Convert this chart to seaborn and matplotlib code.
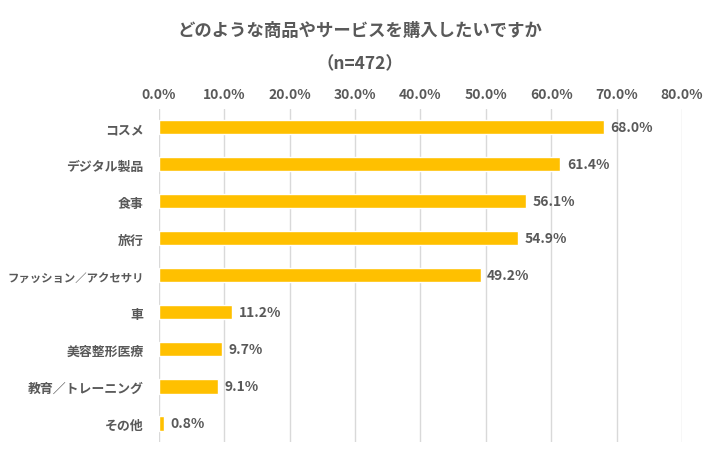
import pandas as pd
import matplotlib
matplotlib.use('Agg')
import matplotlib.pyplot as plt
import seaborn as sbn
import numpy as np

# data
categories = ['コスメ', 'デジタル製品', '食事', '旅行', 'ファッション／アクセサリ',
              '車', '美容整形医療', '教育／トレーニング', 'その他']
values = [68.0, 61.4, 56.1, 54.9, 49.2, 11.2, 9.7, 9.1, 0.8]
xticks = [0, 10, 20, 30, 40, 50, 60, 70, 80]
title = 'どのような商品やサービスを購入したいですか\n（n=472）'

df = pd.DataFrame({'cat': categories, 'val': values})

sbn.set_style('white')
plt.rcParams['font.family'] = ['Noto Sans CJK JP', 'DejaVu Sans']
grey = '#595959'

fig = plt.figure(figsize=(7.19, 4.60), dpi=100)
ax = fig.add_axes([0.221, 0.037, 0.7275, 0.724])

sbn.barplot(data=df, x='val', y='cat', color='#FFC000', saturation=1,
            width=0.38, ax=ax, zorder=3)

ax.set_xlim(0, 80)
ax.set_xticks(xticks)
ax.set_xticklabels([f'{t:.1f}%' for t in xticks], color=grey,
                   fontsize=10, fontweight='bold')
ax.xaxis.tick_top()
ax.tick_params(axis='x', length=0, pad=6)
ax.tick_params(axis='y', length=0, pad=11)
for lab in ax.get_yticklabels():
    lab.set_color(grey)
    lab.set_fontweight('bold')
    # the long label is squeezed so it fits the left margin
    lab.set_fontsize(8.2 if len(lab.get_text()) > 10 else 9.3)
ax.set_xlabel('')
ax.set_ylabel('')
ax.grid(axis='x', color='#D9D9D9', linewidth=1, zorder=0)
for s in ax.spines.values():
    s.set_visible(False)

for i, v in enumerate(values):
    ax.text(v + 1.0, i, f'{v:.1f}%', va='center', ha='left',
            color=grey, fontsize=10, fontweight='bold')

fig.suptitle(title, y=0.953, color=grey, fontsize=12.5, fontweight='bold',
             linespacing=2.1)

fig.savefig('out.png', dpi=100)
